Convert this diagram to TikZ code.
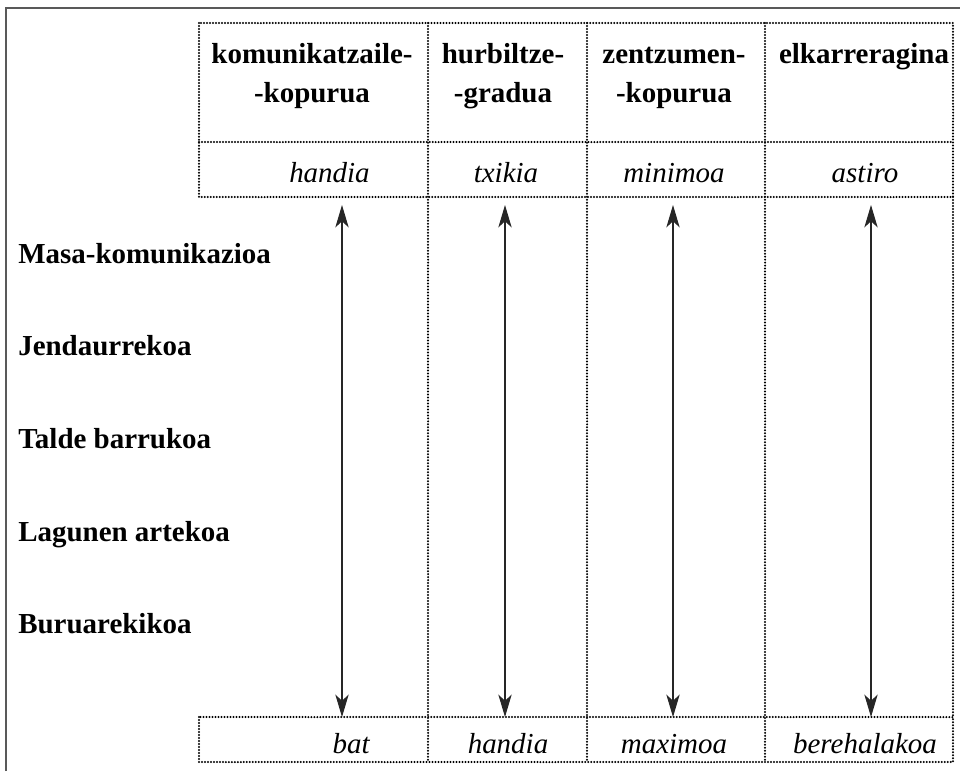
\documentclass[tikz,border=0pt]{standalone}
\usepackage{fontspec}
\setmainfont{Liberation Serif}
\usetikzlibrary{arrows.meta}

\begin{document}
\begin{tikzpicture}[x=0.025cm, y=-0.025cm,
		mota/.style={anchor=base west, inner sep=0pt, font=\fontsize{20.6}{27.5}\selectfont\bfseries},
		ezaug/.style={anchor=base, align=center, inner sep=0pt, font=\fontsize{20.6}{27.5}\selectfont\bfseries},
		balio/.style={anchor=base, inner sep=0pt, font=\fontsize{20.6}{27.5}\selectfont\itshape},
		sarea/.style={line width=1.6pt, dash pattern=on 0pt off 2.13pt, line cap=round},
		eskala/.style={{Stealth[length=16pt, width=9.5pt, inset=4.5pt]}-{Stealth[length=16pt, width=9.5pt, inset=4.5pt]}, line width=0.75pt, black!85}]
		\useasboundingbox (0,0) rectangle (960,771);
		
		% frame
		\draw [line width=1.4pt, black!65] (6,771) -- (6,8) -- (960,8);
		
		% dotted table
		\draw [sarea] (199,23) rectangle (953,197);
		\draw [sarea] (199,142) -- (953,142);
		\draw [sarea] (199,717) rectangle (953,762);
		\draw [sarea] (428,23) -- (428,762);
		\draw [sarea] (587,23) -- (587,762);
		\draw [sarea] (765,23) -- (765,762);
		\draw [sarea] (953,197) -- (953,717);
		
		% column heads (base = last line)
		\node (H1) at (312,102) [ezaug] {komunikatzaile-\\-kopurua};
		\node (H2) at (503,102) [ezaug] {hurbiltze-\\-gradua};
		\node (H3) at (674,102) [ezaug] {zentzumen-\\-kopurua};
		\node (H4) at (864,63) [ezaug] {elkarreragina};
		
		% upper values
		\node (G1) at (370,182) [balio, anchor=base east] {handia};
		\node (G2) at (506,182) [balio] {txikia};
		\node (G3) at (674,182) [balio] {minimoa};
		\node (G4) at (865,182) [balio] {astiro};
		
		% lower values
		\node (B1) at (370,753) [balio, anchor=base east] {bat};
		\node (B2) at (508,753) [balio] {handia};
		\node (B3) at (674,753) [balio] {maximoa};
		\node (B4) at (865,753) [balio] {berehalakoa};
		
		% kinds of communication
		\node (M1) at (18,263) [mota] {Masa-komunikazioa};
		\node (M2) at (18,355) [mota] {Jendaurrekoa};
		\node (M3) at (18,448) [mota] {Talde barrukoa};
		\node (M4) at (18,541) [mota] {Lagunen artekoa};
		\node (M5) at (18,633) [mota] {Buruarekikoa};
		
		% scales
		\coordinate (U1) at (342,205);
		\coordinate (U2) at (505,205);
		\coordinate (U3) at (673,205);
		\coordinate (U4) at (871,205);
		\coordinate (D1) at (342,717);
		\coordinate (D2) at (505,717);
		\coordinate (D3) at (673,717);
		\coordinate (D4) at (871,717);
		
		\draw [eskala] (U1) -- (D1);
		\draw [eskala] (U2) -- (D2);
		\draw [eskala] (U3) -- (D3);
		\draw [eskala] (U4) -- (D4);
\end{tikzpicture}
\end{document}
